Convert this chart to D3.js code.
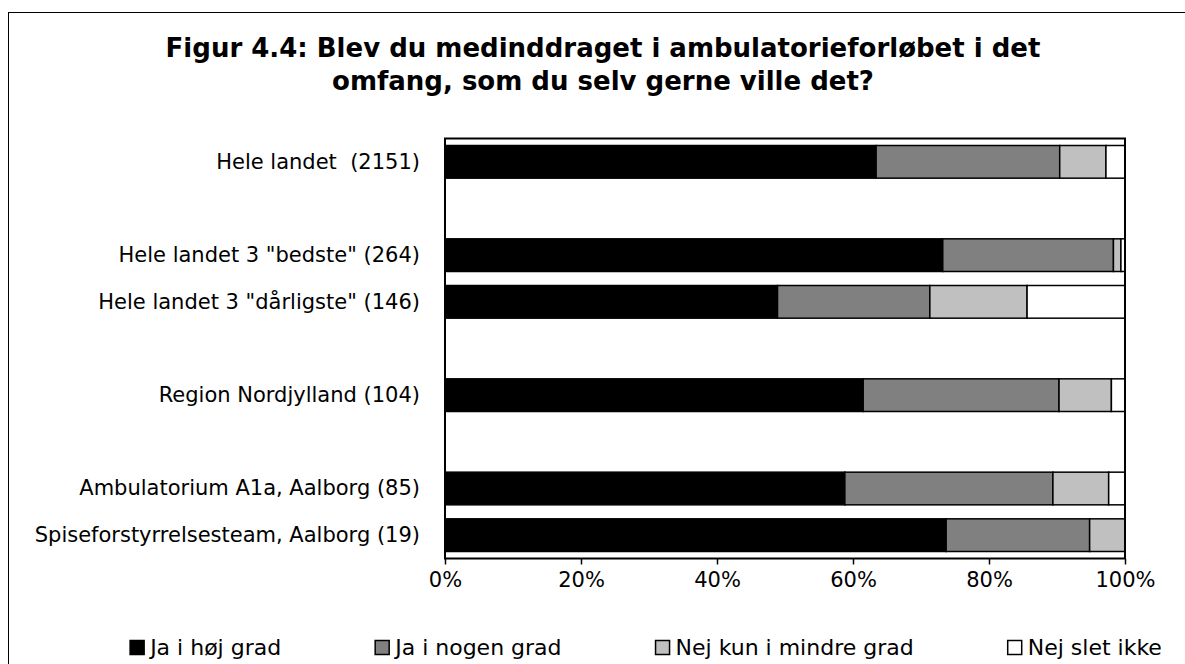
<!DOCTYPE html>
<html>
<head>
<meta charset="utf-8">
<script src="https://cdnjs.cloudflare.com/ajax/libs/d3/7.8.5/d3.min.js"></script>
<style>
  body { margin: 0; background: #fff; }
  text { font-family: "DejaVu Sans", Verdana, sans-serif; white-space: pre; }
</style>
</head>
<body>
<script>
var width = 1185;
var height = 664;

// rows of the chart, "" = empty row between groups
var categories = [
    "Hele landet  (2151)",
    "",
    "Hele landet 3 \"bedste\" (264)",
    "Hele landet 3 \"dårligste\" (146)",
    "",
    "Region Nordjylland (104)",
    "",
    "Ambulatorium A1a, Aalborg (85)",
    "Spiseforstyrrelsesteam, Aalborg (19)"
];

var series = ["Ja i høj grad", "Ja i nogen grad", "Nej kun i mindre grad", "Nej slet ikke"];
var colors = ["#000000", "#808080", "#c0c0c0", "#ffffff"];

// percent per row, null = empty row
var hojGrad    = [63.4, null, 73.2, 48.9, null, 61.5, null, 58.8, 73.7];
var nogenGrad  = [27.0, null, 25.1, 22.4, null, 28.8, null, 30.6, 21.1];
var mindreGrad = [6.8, null, 1.1, 14.3, null, 7.7, null, 8.2, 5.2];
var sletIkke   = [2.8, null, 0.6, 14.4, null, 2.0, null, 2.4, 0.0];

var xTicks = [0, 0.2, 0.4, 0.6, 0.8, 1];

var titleLines = [
    "Figur 4.4: Blev du medinddraget i ambulatorieforløbet i det",
    "omfang, som du selv gerne ville det?"
];

var plot = {left: 445, right: 1125, top: 138.5, bottom: 558.5};

var svg = d3.select("body")
            .append("svg")
            .attr("width", width)
            .attr("height", height);

// outer frame (runs off the right and bottom of the picture)
svg.append("rect")
   .attr("x", 8.5)
   .attr("y", 12.5)
   .attr("width", width + 20)
   .attr("height", height + 20)
   .style("fill", "none")
   .style("stroke", "#000")
   .style("stroke-width", 1);

// title
svg.selectAll("text.title")
   .data(titleLines)
   .enter()
   .append("text")
   .attr("class", "title")
   .attr("x", 603)
   .attr("y", function(d, i) { return 57 + i * 33; })
   .attr("text-anchor", "middle")
   .style("font-weight", "bold")
   .style("font-size", "26px")
   .text(function(d) { return d; });

var x = d3.scaleLinear()
          .domain([0, 1])
          .range([plot.left, plot.right]);

var y = d3.scaleBand()
          .domain(d3.range(categories.length))
          .range([plot.top, plot.bottom])
          .paddingInner(0.3)
          .paddingOuter(0.15);

// stack the rows
var rows = categories.map(function(c, i) {
    return {i: i, vals: [hojGrad[i], nogenGrad[i], mindreGrad[i], sletIkke[i]]};
}).filter(function(r) { return r.vals[0] !== null; });

var segs = [];
rows.forEach(function(r) {
    var total = d3.sum(r.vals);
    var acc = 0;
    r.vals.forEach(function(v, k) {
        segs.push({i: r.i, k: k, x0: acc / total, x1: (acc + v) / total});
        acc = acc + v;
    });
});

svg.append("g")
   .selectAll("rect")
   .data(segs.filter(function(d) { return d.x1 - d.x0 > 0; }))
   .enter()
   .append("rect")
   .attr("x", function(d) { return x(d.x0); })
   .attr("y", function(d) { return y(d.i); })
   .attr("width", function(d) { return x(d.x1) - x(d.x0); })
   .attr("height", y.bandwidth())
   .style("fill", function(d) { return colors[d.k]; })
   .style("stroke", "#000")
   .style("stroke-width", 1.5);

// plot border
svg.append("rect")
   .attr("x", plot.left)
   .attr("y", plot.top)
   .attr("width", plot.right - plot.left)
   .attr("height", plot.bottom - plot.top)
   .style("fill", "none")
   .style("stroke", "#000")
   .style("stroke-width", 2);

// axes
var xAxis = svg.append("g")
   .attr("transform", "translate(0," + plot.bottom + ")")
   .call(d3.axisBottom(x).tickValues(xTicks).tickFormat(d3.format(".0%")).tickSize(6).tickSizeOuter(0).tickPadding(8));
xAxis.select(".domain").remove();
xAxis.selectAll("line").style("stroke", "#000").style("stroke-width", 1.5);
xAxis.selectAll("text").style("font-size", "21px").style("fill", "#000").attr("font-family", null);

var yAxis = svg.append("g")
   .attr("transform", "translate(" + plot.left + ",0)")
   .call(d3.axisLeft(y).tickSize(0).tickPadding(25).tickFormat(function(i) { return categories[i]; }));
yAxis.select(".domain").remove();
yAxis.selectAll("text").style("font-size", "21px").style("fill", "#000").attr("font-family", null);

// legend
var legend = svg.append("g");
var item = legend.selectAll("g")
   .data(series)
   .enter()
   .append("g");

item.append("rect")
    .attr("y", 640.5)
    .attr("width", 14)
    .attr("height", 14)
    .style("fill", function(d, i) { return colors[i]; })
    .style("stroke", "#000")
    .style("stroke-width", 1.5);

item.append("text")
    .attr("x", 20)
    .attr("y", 655)
    .style("font-size", "22px")
    .text(function(d) { return d; });

var pos = 0;
item.each(function() {
    var w = d3.select(this).select("text").node().getComputedTextLength();
    d3.select(this).attr("data-x", pos);
    pos = pos + 20 + w + 94;
});
var total = pos - 94;
var start = 646 - total / 2;
item.attr("transform", function() { return "translate(" + (start + (+d3.select(this).attr("data-x"))) + ",0)"; });
</script>
</body>
</html>
